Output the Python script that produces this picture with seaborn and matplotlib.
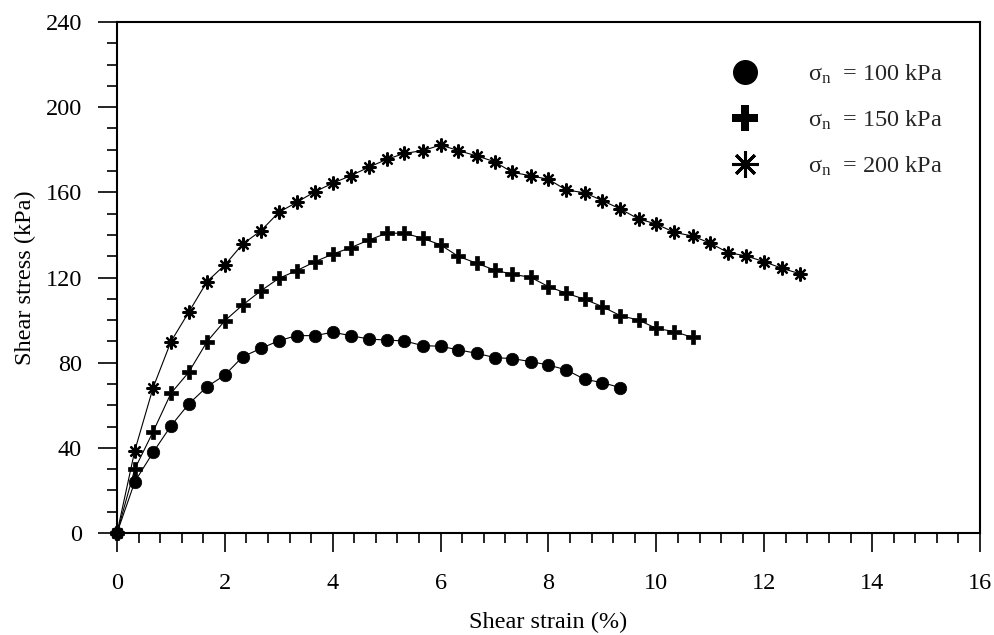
import matplotlib
matplotlib.use("Agg")
import matplotlib.pyplot as plt
import seaborn as sns
import pandas as pd
from matplotlib.lines import Line2D
from matplotlib.ticker import MultipleLocator

strain_100 = [0, 0.33, 0.67, 1.0, 1.33, 1.67, 2.0, 2.33, 2.67, 3.0, 3.33, 3.67, 4.0,
              4.33, 4.67, 5.0, 5.33, 5.67, 6.0, 6.33, 6.67, 7.0, 7.33, 7.67, 8.0,
              8.33, 8.67, 9.0, 9.33]
stress_100 = [0, 24.1, 37.9, 50.3, 60.6, 68.7, 74.2, 82.8, 86.7, 90.3, 92.7, 92.7, 94.3,
              92.7, 91.1, 90.6, 90.2, 88.0, 87.7, 86.0, 84.4, 82.4, 81.9, 80.5, 78.9,
              76.6, 72.2, 70.6, 68.3]

strain_150 = [0, 0.33, 0.67, 1.0, 1.33, 1.67, 2.0, 2.33, 2.67, 3.0, 3.33, 3.67, 4.0,
              4.33, 4.67, 5.0, 5.33, 5.67, 6.0, 6.33, 6.67, 7.0, 7.33, 7.67, 8.0,
              8.33, 8.67, 9.0, 9.33, 9.67, 10.0, 10.33, 10.67]
stress_150 = [0, 30.1, 47.6, 65.6, 75.5, 89.9, 99.7, 107.1, 113.8, 119.6, 123.2, 127.4,
              131.0, 134.0, 137.6, 140.8, 140.8, 138.4, 135.3, 129.9, 126.7, 123.5,
              121.5, 120.1, 115.7, 112.6, 109.8, 106.3, 102.1, 100.0, 96.1, 94.6, 91.9]

strain_200 = [0, 0.33, 0.67, 1.0, 1.33, 1.67, 2.0, 2.33, 2.67, 3.0, 3.33, 3.67, 4.0,
              4.33, 4.67, 5.0, 5.33, 5.67, 6.0, 6.33, 6.67, 7.0, 7.33, 7.67, 8.0,
              8.33, 8.67, 9.0, 9.33, 9.67, 10.0, 10.33, 10.67, 11.0, 11.33, 11.67,
              12.0, 12.33, 12.67]
stress_200 = [0, 38.7, 68.3, 89.9, 103.7, 118.1, 125.9, 135.7, 142.0, 150.6, 155.3,
              160.3, 164.3, 167.8, 171.8, 175.5, 178.3, 179.6, 182.2, 179.6, 177.1,
              174.4, 169.4, 167.8, 166.1, 161.1, 159.8, 156.1, 152.2, 147.5, 145.1,
              141.2, 139.5, 136.1, 131.7, 130.1, 127.4, 124.3, 121.7]

labels = [r"$\mathrm{\sigma}_{\mathrm{n}}$  = 100 kPa",
          r"$\mathrm{\sigma}_{\mathrm{n}}$  = 150 kPa",
          r"$\mathrm{\sigma}_{\mathrm{n}}$  = 200 kPa"]
x_ticks = [0, 2, 4, 6, 8, 10, 12, 14, 16]
y_ticks = [0, 40, 80, 120, 160, 200, 240]

sns.set_theme(style="ticks")
plt.rcParams["font.family"] = ["Liberation Serif", "DejaVu Serif"]
plt.rcParams["mathtext.fontset"] = "custom"
plt.rcParams["mathtext.rm"] = "Liberation Serif"
plt.rcParams["mathtext.it"] = "Liberation Serif:italic"
plt.rcParams["mathtext.bf"] = "Liberation Serif:bold"

FS = 17.5

fig = plt.figure(figsize=(9.95, 6.35), dpi=100)
ax = fig.add_axes([117 / 995, 1 - 533 / 635, 863 / 995, 511 / 635])

series = [
    (strain_100, stress_100, "o", 9),
    (strain_150, stress_150, "P", 10),
    (strain_200, stress_200, (8, 2, 0), 10),
]
for (xs, ys, mk, ms), lab in zip(series, labels):
    df = pd.DataFrame({"strain": xs, "stress": ys})
    sns.lineplot(data=df, x="strain", y="stress", ax=ax, color="black",
                 linewidth=0.8, marker=mk, markersize=ms,
                 markeredgecolor="black", markerfacecolor="black",
                 markeredgewidth=1.6 if mk == (8, 2, 0) else 0.5,
                 legend=False, zorder=3, clip_on=False)

ax.set_xlim(0, 16)
ax.set_ylim(0, 240)
ax.set_xticks(x_ticks)
ax.set_yticks(y_ticks)
ax.xaxis.set_minor_locator(MultipleLocator(0.4))
ax.yaxis.set_minor_locator(MultipleLocator(10))
ax.tick_params(which="major", direction="out", length=13.7, width=1.2,
               labelsize=FS, color="black", labelcolor="black")
ax.tick_params(axis="x", which="major", pad=15)
ax.tick_params(axis="y", which="major", pad=11.5)
ax.tick_params(which="minor", direction="out", length=7.2, width=1.2, color="black")
for sp in ax.spines.values():
    sp.set_visible(True)
    sp.set_linewidth(1.5)
    sp.set_color("black")

ax.set_xlabel("Shear strain (%)", fontsize=FS, labelpad=13, color="black")
ax.set_ylabel("Shear stress (kPa)", fontsize=FS, labelpad=7, color="black")

handles = [
    Line2D([], [], linestyle="none", marker="o", markersize=17, color="black"),
    Line2D([], [], linestyle="none", marker="P", markersize=19, color="black",
           markeredgewidth=0),
    Line2D([], [], linestyle="none", marker=(8, 2, 0), markersize=19, color="black",
           markeredgewidth=2.2),
]
ax.legend(handles, labels, loc="upper left", bbox_to_anchor=(0.708, 0.92),
          frameon=False, fontsize=FS, handlelength=1.4, handletextpad=1.9,
          labelspacing=0.92, borderpad=0, borderaxespad=0)

fig.savefig("out.png", dpi=100)
